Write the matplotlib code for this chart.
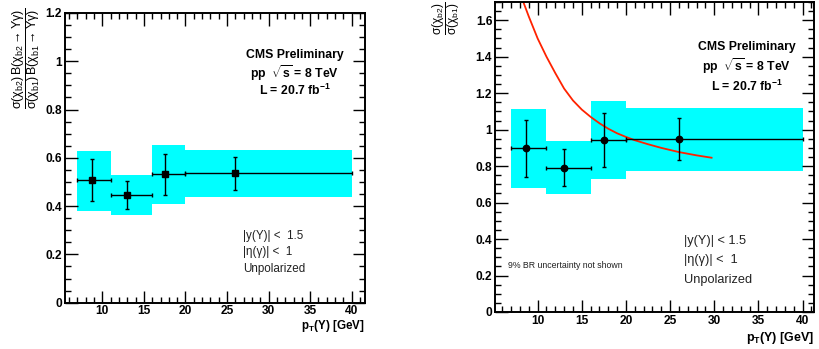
import numpy as np
import matplotlib
matplotlib.use('Agg')
import matplotlib.pyplot as plt
from matplotlib.ticker import MultipleLocator, FormatStrFormatter

plt.rcParams['font.family'] = ['Liberation Sans', 'DejaVu Sans']
plt.rcParams['mathtext.fontset'] = 'custom'
plt.rcParams['mathtext.rm'] = 'Liberation Sans'
plt.rcParams['mathtext.it'] = 'Liberation Sans:italic'
plt.rcParams['mathtext.bf'] = 'Liberation Sans:bold'
plt.rcParams['mathtext.default'] = 'regular'

# bins in pT(Upsilon)
bin_lo = [7, 11, 16, 20]
bin_hi = [11, 16, 20, 40]
pt_mean = [8.7, 13.0, 17.5, 26.0]

# left: sigma ratio times branching ratio
ratio_br = [0.507, 0.445, 0.532, 0.536]
stat_hi_br = [0.594, 0.504, 0.616, 0.602]
stat_lo_br = [0.420, 0.389, 0.446, 0.467]
syst_hi_br = [0.628, 0.529, 0.653, 0.633]
syst_lo_br = [0.380, 0.363, 0.409, 0.438]

# right: sigma ratio only
ratio_xs = [0.897, 0.791, 0.941, 0.948]
stat_hi_xs = [1.053, 0.892, 1.089, 1.065]
stat_lo_xs = [0.742, 0.692, 0.793, 0.832]
syst_hi_xs = [1.113, 0.938, 1.157, 1.117]
syst_lo_xs = [0.681, 0.647, 0.729, 0.775]

# theory curve
theory_pt = [8.3, 9.0, 10.0, 11.0, 12.0, 13.0, 14.0, 15.0, 16.0, 17.0, 18.0, 19.0,
             20.0, 21.0, 22.5, 24.0, 26.0, 28.0, 29.7]
theory_val = [1.71, 1.62, 1.50, 1.40, 1.31, 1.225, 1.16, 1.11, 1.07, 1.035, 1.005, 0.98,
              0.96, 0.942, 0.92, 0.90, 0.877, 0.859, 0.846]

fig = plt.figure(figsize=(8.19, 3.49), dpi=100)
ax1 = fig.add_axes([65/819, 1-302.7/349, 300/819, 289.7/349])
ax2 = fig.add_axes([495/819, 1-312/349, 319/819, 310/349])


def draw(ax, val, shi, slo, yhi, ylo, marker, ms):
    for lo, hi, a, b in zip(bin_lo, bin_hi, ylo, yhi):
        ax.fill_between([lo, hi], a, b, color='#00ffff', lw=0, zorder=1)
    x = np.array(pt_mean)
    v = np.array(val)
    xerr = [x - np.array(bin_lo), np.array(bin_hi) - x]
    yerr = [v - np.array(slo), np.array(shi) - v]
    ax.errorbar(x, v, xerr=xerr, yerr=yerr, fmt=marker, color='black', ms=ms,
                elinewidth=1, capsize=1.5, capthick=1, zorder=3)


def style(ax, xlim, ylim):
    ax.set_xlim(*xlim)
    ax.set_ylim(*ylim)
    ax.xaxis.set_major_locator(MultipleLocator(5))
    ax.xaxis.set_minor_locator(MultipleLocator(1))
    ax.yaxis.set_major_locator(MultipleLocator(0.2))
    ax.yaxis.set_minor_locator(MultipleLocator(0.05))
    ax.yaxis.set_major_formatter(FormatStrFormatter('%g'))
    ax.set_xticks([10, 15, 20, 25, 30, 35, 40])
    ax.tick_params(which='both', direction='in', top=True, right=True, width=1)
    ax.tick_params(which='major', length=9, labelsize=8.6, pad=2)
    ax.tick_params(which='minor', length=4.5)
    for lab in ax.get_xticklabels() + ax.get_yticklabels():
        lab.set_fontweight('bold')
    for s in ax.spines.values():
        s.set_linewidth(1.4)


# left panel
draw(ax1, ratio_br, stat_hi_br, stat_lo_br, syst_hi_br, syst_lo_br, 's', 4.3)
style(ax1, (5.5, 41.6), (0, 1.2))
fig.text(295/819, 1-55/349, 'CMS Preliminary', ha='center', va='center', fontsize=8.8, fontweight='bold')
fig.text(295/819, 1-73/349, r'pp  $\sqrt{s}$ = 8 TeV', ha='center', va='center', fontsize=8.8, fontweight='bold')
fig.text(295/819, 1-90/349, r'L = 20.7 fb$^{-1}$', ha='center', va='center', fontsize=8.8, fontweight='bold')
for i, t in enumerate(['|y(\u03a5)| <  1.5', '|\u03b7(\u03b3)| <  1', 'Unpolarized']):
    fig.text(243/819, 1-(236+16.5*i)/349, t, ha='left', va='center', fontsize=8.4, color='#222222')
fig.text(365/819, 1-326/349, 'p$_T$(\u03a5) [GeV]', ha='right', va='center', fontsize=8.4, fontweight='bold')
fig.text(26/819, 1-8/349,
         r'$\dfrac{\sigma(\chi_{b2})}{\sigma(\chi_{b1})}\dfrac{B(\chi_{b2}\to\Upsilon\gamma)}{B(\chi_{b1}\to\Upsilon\gamma)}$',
         rotation=90, ha='center', va='top', fontsize=9)

# right panel
draw(ax2, ratio_xs, stat_hi_xs, stat_lo_xs, syst_hi_xs, syst_lo_xs, 'o', 4.6)
ax2.plot(theory_pt, theory_val, color='#ff2200', lw=1.3, zorder=2)
style(ax2, (5.17, 41.3), (0, 1.7))
fig.text(747/819, 1-47/349, 'CMS Preliminary', ha='center', va='center', fontsize=8.8, fontweight='bold')
fig.text(747/819, 1-66/349, r'pp  $\sqrt{s}$ = 8 TeV', ha='center', va='center', fontsize=8.8, fontweight='bold')
fig.text(747/819, 1-86/349, r'L = 20.7 fb$^{-1}$', ha='center', va='center', fontsize=8.8, fontweight='bold')
for i, t in enumerate(['|y(\u03a5)| < 1.5', '|\u03b7(\u03b3)| <  1', 'Unpolarized']):
    fig.text(684/819, 1-(241+19.5*i)/349, t, ha='left', va='center', fontsize=9.2, color='#222222')
fig.text(508/819, 1-266/349, '9% BR uncertainty not shown', ha='left', va='center', fontsize=6.3, color='#222222')
fig.text(814/819, 1-338/349, 'p$_T$(\u03a5) [GeV]', ha='right', va='center', fontsize=9, fontweight='bold')
fig.text(446/819, 1-2/349, r'$\dfrac{\sigma(\chi_{b2})}{\sigma(\chi_{b1})}$',
         rotation=90, ha='center', va='top', fontsize=8.6)

fig.savefig('out.png', dpi=100)
